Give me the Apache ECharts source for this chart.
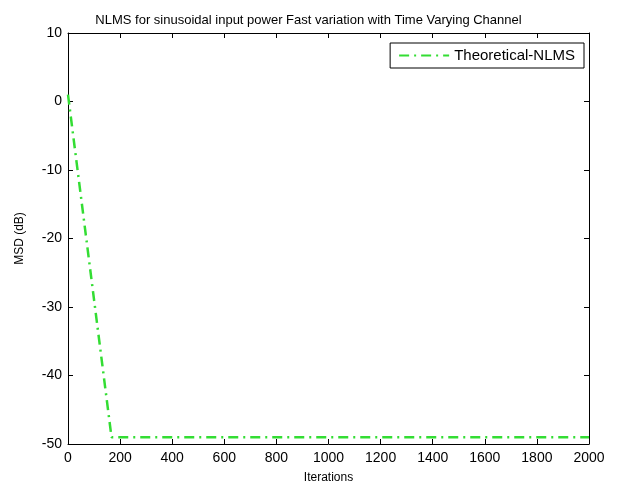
<!DOCTYPE html>
<html><head><meta charset="utf-8">
<script src="https://cdn.jsdelivr.net/npm/echarts@6/dist/echarts.min.js"></script>
<style>html,body{margin:0;padding:0;background:#fff}#c{width:617px;height:488px}</style>
</head><body><div id="c"></div>
<script>
const titleText = 'NLMS for sinusoidal input power Fast variation with Time Varying Channel';
const seriesName = 'Theoretical-NLMS';
const iterations = [0, 167, 2000];
const msd = [1, -49, -49];
const xLabel = 'Iterations';
const yLabel = 'MSD (dB)';

const chart = echarts.init(document.getElementById('c'), null, {renderer: 'canvas'});
const font = 'Arial, "Liberation Sans", sans-serif';
const axisCommon = {
  axisLine: {show: true, onZero: false, lineStyle: {color: '#000', width: 1}},
  axisTick: {show: true, inside: true, length: 5, lineStyle: {color: '#000'}},
  splitLine: {show: false},
};
chart.setOption({
  animation: false,
  backgroundColor: '#fff',
  title: {text: titleText, left: 'center', top: 9, textStyle: {fontFamily: font, fontSize: 13, fontWeight: 'normal', color: '#000'}},
  grid: {left: 68, right: 28, top: 33, bottom: 44, containLabel: false, outerBoundsMode: 'none'},
  legend: {
    data: [seriesName], right: 33, top: 43, orient: 'vertical',
    backgroundColor: '#fff', borderColor: '#000', borderWidth: 1, padding: [5, 9, 5, 8],
    itemWidth: 50, itemHeight: 10, itemGap: 4,
    itemStyle: {opacity: 0},
    textStyle: {fontFamily: font, fontSize: 15, color: '#000'}
  },
  xAxis: [
    Object.assign({type: 'value', min: 0, max: 2000, interval: 200, position: 'bottom',
      name: xLabel, nameLocation: 'middle', nameGap: 28,
      nameTextStyle: {fontFamily: font, fontSize: 12, color: '#000'},
      axisLabel: {fontFamily: font, fontSize: 14, color: '#000', margin: 7, formatter: v => String(v)}}, axisCommon),
    Object.assign({type: 'value', min: 0, max: 2000, interval: 200, position: 'top', axisLabel: {show: false}}, axisCommon)
  ],
  yAxis: [
    Object.assign({type: 'value', min: -50, max: 10, interval: 10, position: 'left',
      name: yLabel, nameLocation: 'middle', nameGap: 42, nameRotate: 90,
      nameTextStyle: {fontFamily: font, fontSize: 12, color: '#000'},
      axisLabel: {fontFamily: font, fontSize: 14, color: '#000', margin: 6}}, axisCommon),
    Object.assign({type: 'value', min: -50, max: 10, interval: 10, position: 'right', axisLabel: {show: false}}, axisCommon)
  ],
  series: [{
    name: seriesName, type: 'line', xAxisIndex: 0, yAxisIndex: 0,
    data: iterations.map((x, i) => [x, msd[i]]),
    showSymbol: false, symbol: 'none',
    lineStyle: {color: '#33dd33', width: 2.5, type: [10, 5, 2, 5]},
    itemStyle: {color: '#33dd33'}
  }]
});
</script></body></html>
